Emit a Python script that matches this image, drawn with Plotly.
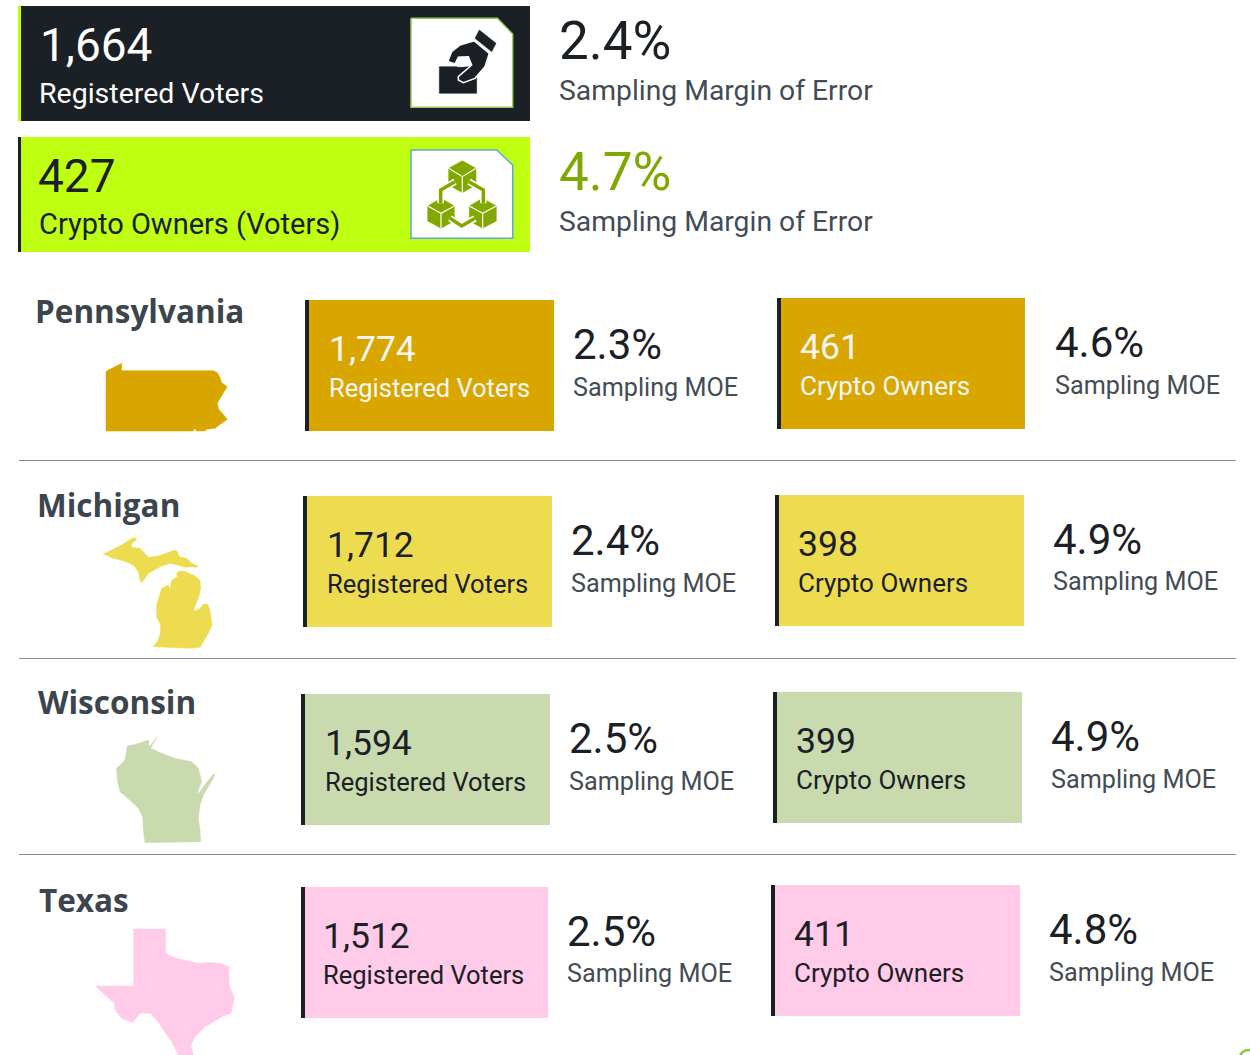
import plotly.graph_objects as go

# ---------- data ----------
headline_counts = ["1,664", "427"]
headline_labels = ["Registered Voters", "Crypto Owners (Voters)"]
headline_moes = ["2.4%", "4.7%"]
moe_long_label = "Sampling Margin of Error"

states = ["Pennsylvania", "Michigan", "Wisconsin", "Texas"]
voters = ["1,774", "1,712", "1,594", "1,512"]
voter_moes = ["2.3%", "2.4%", "2.5%", "2.5%"]
crypto = ["461", "398", "399", "411"]
crypto_moes = ["4.6%", "4.9%", "4.9%", "4.8%"]
voter_label = "Registered Voters"
crypto_label = "Crypto Owners"
moe_label = "Sampling MOE"

# ---------- style ----------
DARK = "#1b2026"
LIME = "#bfff12"
GREY_TEXT = "#434c54"
GREEN = "#7fa800"
ICON_GREEN = "#82a800"
state_colors = ["#d9a600", "#eddc4f", "#c9dbae", "#ffcbe9"]
state_text = ["#f6f6f6", DARK, DARK, DARK]
FONT = "Roboto"
TITLE_FONT = "Open Sans"

# ---------- layout positions (page pixels) ----------
voter_box = [(305, 554, 300, 431), (303, 552, 496, 627), (301, 550, 694, 825), (301, 548, 887, 1018)]
crypto_box = [(777, 1025, 298, 429), (775, 1024, 495, 626), (773, 1022, 692, 823), (771, 1020, 885, 1016)]
voter_y = [(349, 388, 344.5, 387), (545, 584, 540.5, 583), (743, 782, 738.5, 781), (936, 975, 931.5, 973)]
crypto_y = [(347, 386, 342.5, 385), (544, 583, 539.5, 581), (741, 780, 736.5, 779), (934, 973, 929.5, 972)]
voter_num_x = [327.5, 325.5, 323.5, 321.5]
voter_lab_x = [328, 326, 324, 322]
moe_x_v = [572, 570, 568, 566]
moe_x_c = [1054, 1052, 1050, 1048]
title_pos = [(34, 310), (36, 504), (37, 701), (38, 899)]
dividers = [460.5, 658.5, 854.5]

# ---------- outlines (3x crop coords + crop origin) ----------
pa_outline = [(78,64),(125,40),(125,62),(400,62),(412,68),(420,82),(425,98),(442,110),(432,125),(418,150),(412,160),(416,178),(428,192),(442,208),(425,220),(405,235),(380,238),(375,243),(350,243),(343,236),(340,243),(78,243)]
mi_upper = [(40,72),(70,58),(95,45),(118,30),(135,22),(140,28),(125,42),(125,52),(150,55),(160,65),(175,82),(205,78),(225,70),(255,60),(262,65),(268,80),(290,85),(305,100),(325,108),(320,112),(300,110),(285,112),(262,105),(240,100),(215,108),(195,120),(175,130),(165,145),(155,158),(150,150),(145,125),(130,105),(100,92),(70,85)]
mi_lower = [(260,130),(270,122),(285,125),(310,135),(330,150),(332,175),(328,195),(315,225),(310,242),(325,240),(340,222),(352,222),(360,240),(366,285),(355,310),(340,335),(330,352),(300,355),(190,350),(205,330),(212,305),(212,285),(200,260),(200,225),(210,195),(215,175),(235,165),(240,178),(245,150),(262,140)]
wi_outline = [(82,48),(110,42),(145,30),(148,52),(165,28),(170,20),(160,40),(152,55),(185,70),(225,85),(275,95),(295,115),(300,135),(305,155),(290,192),(300,185),(318,160),(340,132),(345,135),(325,170),(310,195),(300,225),(295,265),(300,300),(302,335),(135,338),(130,300),(128,260),(115,235),(95,215),(60,185),(52,150),(50,115),(75,90)]
tx_outline = [(146,27),(242,27),(242,100),(265,112),(305,122),(340,130),(375,127),(405,130),(432,140),(432,195),(448,235),(438,280),(410,290),(395,300),(360,320),(330,350),(318,375),(325,405),(280,405),(260,365),(235,330),(220,305),(195,280),(165,280),(142,308),(110,295),(90,270),(88,250),(60,225),(32,198),(146,198)]

state_shapes = [
    [(pa_outline, (80, 350))],
    [(mi_upper, (90, 530)), (mi_lower, (90, 530))],
    [(wi_outline, (100, 730))],
    [(tx_outline, (85, 920))],
]

card_one = [(33,25),(292,25),(338,72),(338,292),(33,292)]
card_two = [(33,30),(290,30),(338,75),(338,295),(33,295)]
ballot = [(118,170),(230,170),(230,250),(118,250)]
cuff = [(238,60),(288,100),(275,125),(225,85)]
hand = [(145,150),(155,125),(180,105),(222,92),(268,130),(255,170),(225,205),(190,218),(175,210),(175,200),(215,165),(205,140),(175,142),(165,162),(145,155)]
paper = [(168,155),(185,140),(205,145),(215,165),(190,170),(172,170)]
cube_top = [(187,62),(228,85),(228,135),(187,158),(146,135),(146,85)]
cube_left = [(123,175),(163,198),(163,243),(123,265),(83,243),(83,198)]
cube_right = [(248,175),(289,198),(289,243),(248,265),(208,243),(208,198)]
links = [[(165,125),(122,150),(122,190)], [(207,125),(250,150),(250,190)], [(150,235),(185,258),(225,235)]]

fig = go.Figure()


def page(points, origin):
    ox, oy = origin
    return [ox + p[0] / 3 for p in points], [oy + p[1] / 3 for p in points]


def poly(points, origin, fill, line=None, width=0):
    xs, ys = page(points + points[:1], origin)
    fig.add_trace(go.Scatter(x=xs, y=ys, mode="lines", fill="toself", fillcolor=fill,
                             line=dict(color=line or fill, width=width if line else 0.5),
                             hoverinfo="skip", showlegend=False))


def stroke(points, origin, color, width):
    xs, ys = page(points, origin)
    fig.add_trace(go.Scatter(x=xs, y=ys, mode="lines", line=dict(color=color, width=width),
                             hoverinfo="skip", showlegend=False))


def rect(x0, x1, y0, y1, color):
    fig.add_shape(type="rect", x0=x0, x1=x1, y0=y0, y1=y1, fillcolor=color,
                  line=dict(width=0), layer="below")


def label(text, x, y, size, color, family=FONT, weight=400):
    fig.add_annotation(x=x, y=y, text=text, showarrow=False, xanchor="left", yanchor="middle",
                       borderpad=0, font=dict(family=family, size=size, color=color, weight=weight))


# headline cards
rect(18, 530, 6, 121, DARK)
rect(18, 21, 6, 121, LIME)
rect(18, 530, 137, 252, LIME)
rect(18, 21, 137, 252, DARK)
label(headline_counts[0], 38.5, 45, 46, "#ffffff")
label(headline_labels[0], 38, 93, 28.5, "#ffffff")
label(headline_counts[1], 37, 176, 46, DARK)
label(headline_labels[1], 38, 224, 29, DARK)
for i, y in enumerate([(41, 90.5), (172, 221.5)]):
    label(headline_moes[i], 558, y[0], 53, DARK if i == 0 else GREEN)
    label(moe_long_label, 558, y[1], 28.3, GREY_TEXT)

# ballot icon
poly(card_one, (400, 10), "#ffffff", "#9cc85a", 1.5)
poly(ballot, (400, 10), DARK)
poly(hand, (400, 10), DARK, "#ffffff", 1.5)
poly(paper, (400, 10), "#ffffff")
poly(cuff, (400, 10), DARK)

# crypto icon
poly(card_two, (400, 140), "#ffffff", "#62a5da", 1.5)
for cube in (cube_top, cube_left, cube_right):
    poly(cube, (400, 140), ICON_GREEN)
    top, ur, lr, bot, ll, ul = cube
    cx, cy = top[0], (top[1] + bot[1]) / 2
    stroke([ul, (cx, cy), ur], (400, 140), "#ffffff", 1.2)
    stroke([(cx, cy), bot], (400, 140), "#ffffff", 1.2)
for link in links:
    stroke(link, (400, 140), "#ffffff", 6.5)
    stroke(link, (400, 140), ICON_GREEN, 3.5)

# state rows
for i, name in enumerate(states):
    c = state_colors[i]
    tc = state_text[i]
    label(name, title_pos[i][0], title_pos[i][1], 31.5, "#3c454d", family=TITLE_FONT, weight=700)
    for outline, origin in state_shapes[i]:
        poly(outline, origin, c)

    vb, cb = voter_box[i], crypto_box[i]
    rect(vb[0], vb[1], vb[2], vb[3], c)
    rect(vb[0], vb[0] + 4, vb[2], vb[3], DARK)
    rect(cb[0], cb[1], cb[2], cb[3], c)
    rect(cb[0], cb[0] + 4, cb[2], cb[3], DARK)

    vy, cy = voter_y[i], crypto_y[i]
    label(voters[i], voter_num_x[i], vy[0], 35.5, tc)
    label(voter_label, voter_lab_x[i], vy[1], 25.5, tc)
    label(voter_moes[i], moe_x_v[i], vy[2], 42, DARK)
    label(moe_label, moe_x_v[i], vy[3], 25.2, GREY_TEXT)
    label(crypto[i], cb[0] + 22, cy[0], 35.5, tc)
    label(crypto_label, cb[0] + 22, cy[1], 26, tc)
    label(crypto_moes[i], moe_x_c[i], cy[2], 42, DARK)
    label(moe_label, moe_x_c[i], cy[3], 25.2, GREY_TEXT)

for y in dividers:
    fig.add_shape(type="line", x0=19, x1=1236, y0=y, y1=y, line=dict(color="#8c8c8c", width=1), layer="below")

# cut-off ring at the bottom right edge
fig.add_shape(type="circle", x0=1240, x1=1256, y0=1050, y1=1066, line=dict(color="#8cc63f", width=2.5), layer="below")

fig.update_layout(
    width=1250, height=1055, margin=dict(l=0, r=0, t=0, b=0),
    paper_bgcolor="#ffffff", plot_bgcolor="#ffffff", showlegend=False,
    xaxis=dict(range=[0, 1250], visible=False, fixedrange=True),
    yaxis=dict(range=[1055, 0], visible=False, fixedrange=True),
)
fig.write_html("out.html", config={"displayModeBar": False},
               post_script="document.body.style.margin='0';document.body.style.overflow='hidden';")
